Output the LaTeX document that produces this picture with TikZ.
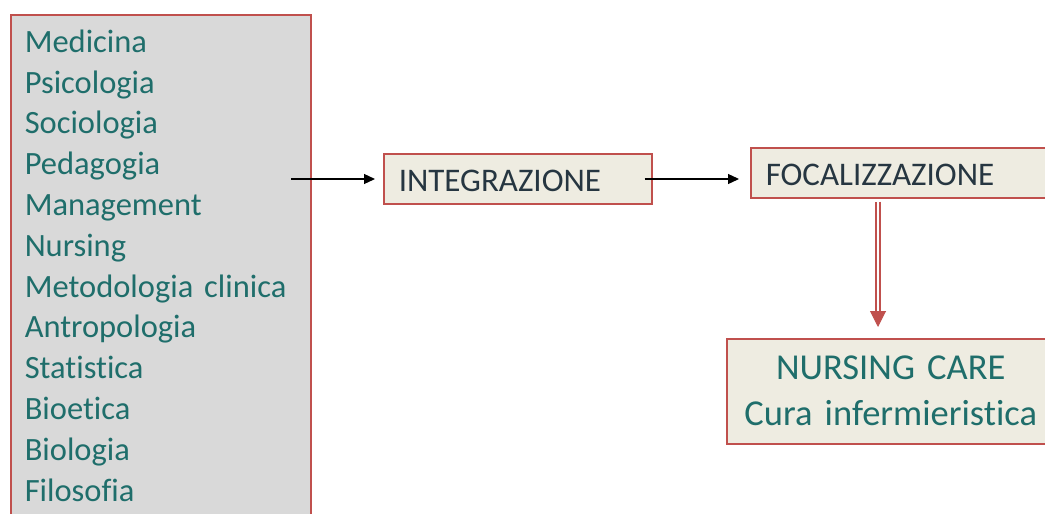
\documentclass[tikz,border=0pt]{standalone}
\usepackage{fontspec}
\setmainfont{Carlito}[RawFeature=-liga]
\usetikzlibrary{arrows.meta,positioning}
\definecolor{bordo}{HTML}{C0504D}
\definecolor{grigio}{HTML}{D9D9D9}
\definecolor{beige}{HTML}{EEECE1}
\definecolor{verde}{HTML}{1F6E6B}
\definecolor{scuro}{HTML}{263641}
\tikzset{
  scatola/.style={draw=bordo,line width=1.5pt,anchor=north west,inner xsep=15pt,inner ysep=0pt},
  lista/.style={scatola,fill=grigio,text=verde,align=left,inner xsep=14pt,inner ysep=15pt,
    font=\fontsize{32.5}{40.8}\selectfont},
  fase/.style={scatola,fill=beige,text=scuro,align=left,minimum height=50pt,
    text height=25pt,text depth=0pt,font=\fontsize{33}{40}\selectfont},
  esito/.style={scatola,fill=beige,text=verde,align=center,minimum height=105pt,
    font=\fontsize{36.5}{46}\selectfont},
  freccia/.style={-{Triangle[length=11pt,width=10pt]},line width=1.3pt},
  doppia/.style={draw=bordo,double=white,double distance=1.5pt,line width=1.9pt},
  punta/.style={-{Triangle[length=16pt,width=16pt]},bordo,line width=1pt},
}
\begin{document}
\begin{tikzpicture}[x=1pt,y=-1pt]
  \path[use as bounding box,clip] (0,0) rectangle (1045,514);
  \node[lista,text width=272pt] (discipline) at (10,14)
    {Medicina\\Psicologia\\Sociologia\\Pedagogia\\Management\\Nursing\\Metodologia clinica\\
     Antropologia\\Statistica\\Bioetica\\Biologia\\Filosofia};
  \node[fase,text width=238pt] (integr) at (383,153) {INTEGRAZIONE};
  \node[fase,text width=280pt] (focal) at (750,147) {FOCALIZZAZIONE};
  \node[esito,text width=298pt] (nursing) at (726,338) {NURSING CARE\\Cura infermieristica};
  \coordinate (da) at (291,179);
  \coordinate (asse) at (878,0);
  \draw[freccia] (da) -- ([xshift=-8pt]integr.west |- da);
  \draw[freccia] ([xshift=-8pt]integr.east |- da) -- ([xshift=-11pt]focal.west |- da);
  \draw[doppia,shorten <=3pt,shorten >=25pt] (focal.south -| asse) -- (nursing.north -| asse);
  \draw[punta] ([yshift=27pt]nursing.north -| asse) -- ([yshift=11pt]nursing.north -| asse);
\end{tikzpicture}
\end{document}
